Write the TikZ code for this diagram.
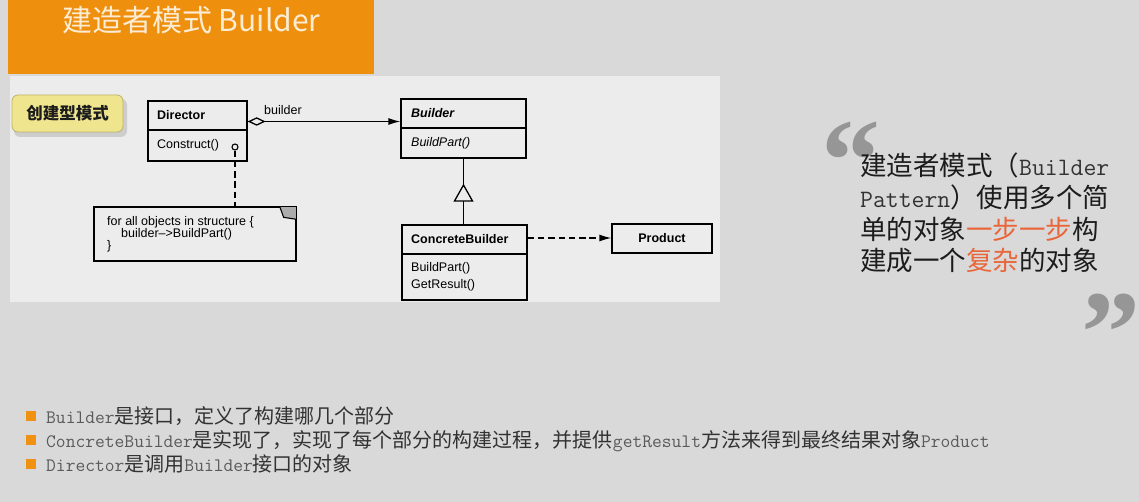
\documentclass[tikz,border=0pt]{standalone}
\usepackage{fontspec}
\setmainfont{Liberation Sans}
\newfontfamily\cjk{Noto Sans CJK SC}
\newfontfamily\qtfont{Liberation Serif}
\usetikzlibrary{arrows.meta,calc}

\definecolor{bg}{RGB}{217,217,217}
\definecolor{panel}{RGB}{236,236,236}
\definecolor{titleorange}{RGB}{238,143,13}
\definecolor{titletext}{RGB}{252,236,212}
\definecolor{tagyellow}{RGB}{239,229,142}
\definecolor{tagedge}{RGB}{190,178,105}
\definecolor{quotegray}{RGB}{150,150,150}
\definecolor{ink}{RGB}{28,28,28}
\definecolor{quotelat}{RGB}{50,50,50}
\definecolor{bulletink}{RGB}{50,50,50}
\definecolor{bulletlat}{RGB}{90,90,90}
\definecolor{accent}{RGB}{232,102,58}
\definecolor{bulletorange}{RGB}{240,145,20}

% Latin runs set in a typewriter face next to Chinese text
\newcommand\latb[1]{{\ttfamily\fontsize{19}{22}\selectfont\color{bulletlat}#1}}
\newcommand\latq[1]{{\ttfamily\fontsize{25}{28}\selectfont\color{quotelat}#1}}
% a quotation glyph in a box trimmed to its ink
\newcommand\qglyph[2]{\makebox[#1][l]{\raisebox{-0.37em}[0.32em][0pt]{#2}}}

\begin{document}
\begin{tikzpicture}[x=1pt,y=-1pt,
  umlbox/.style={draw=black,line width=1.3pt,rectangle,inner sep=0pt},
  lbl/.style={anchor=base west,inner sep=0pt,text=black,font=\fontsize{12.5}{15}\selectfont},
  lblb/.style={lbl,font=\fontsize{12.5}{15}\selectfont\bfseries},
  conn/.style={draw=black,line width=1.3pt},
  dashconn/.style={conn,dash pattern=on 6.5pt off 3.8pt},
  headtip/.style={-{Latex[length=12pt,width=7pt]}},
  quotetxt/.style={anchor=base west,inner sep=0pt,text=ink,text height=20pt,text depth=4pt,font=\cjk\fontsize{26.5}{30}\selectfont},
  bullettxt/.style={anchor=base west,inner sep=0pt,text=bulletink,font=\cjk\fontsize{20}{24}\selectfont},
  bulletsq/.style={fill=bulletorange,minimum size=10pt,inner sep=0pt,rectangle},
  qmark/.style={anchor=base west,inner sep=0pt,text=quotegray,font=\qtfont\bfseries\fontsize{118}{118}\selectfont}
]
% page background
\fill[bg] (0,0) rectangle (1139,502);
\useasboundingbox (0,0) rectangle (1139,502);

% title bar
\fill[titleorange] (8,0) rectangle (374,74);
\node[anchor=base west,inner sep=0pt,text=titletext,font=\cjk\fontsize{30}{34}\selectfont] (title) at (62,32) {建造者模式 Builder};

% diagram panel
\fill[panel] (10,76) rectangle (720,302);

% category tag
\fill[black,opacity=0.13,rounded corners=6pt] (14,99) rectangle (127,137);
\node[draw=tagedge,line width=0.8pt,fill=tagyellow,rounded corners=6pt,minimum width=111pt,minimum height=37pt,inner sep=0pt,text=ink,font=\cjk\bfseries\fontsize{16.5}{18}\selectfont] (tag) at (67.5,113.5) {创建型模式};

% Director class
\node[umlbox,minimum width=99pt,minimum height=60pt] (director) at (197.5,131) {};
\draw[conn] (director.west |- 0,130) -- (director.east |- 0,130);
\node[lblb] (dirname) at (157,120) {Director};
\node[lbl] (dirop) at (157,149) {Construct()};
\node[circle,draw=black,line width=1.1pt,fill=panel,minimum size=6pt,inner sep=0pt] (optail) at (235,147) {};

% note attached to Construct()
\node[umlbox,minimum width=202pt,minimum height=54pt] (note) at (195,234) {};
\fill[gray!65] (note.north east) -- ($(note.north east)+(-17,0)$) -- ($(note.north east)+(-13,11)$) -- ($(note.north east)+(0,13)$) -- cycle;
\draw[line width=1.1pt] ($(note.north east)+(-17,0)$) -- ($(note.north east)+(-13,11)$) -- ($(note.north east)+(0,13)$);
\draw[umlbox] (note.north west) rectangle (note.south east);
\node[lbl] (note1) at (107,226) {for all objects in structure \{};
\node[lbl] (note2) at (121,238) {builder-->BuildPart()};
\node[lbl] (note3) at (107,250) {\}};
\draw[dashconn] (optail.south) -- (optail.south |- note.north);

% Builder class
\node[umlbox,minimum width=125pt,minimum height=59pt] (builder) at (463.5,128.5) {};
\draw[conn] (builder.west |- 0,128) -- (builder.east |- 0,128);
\node[lblb,font=\fontsize{12.5}{15}\selectfont\bfseries\itshape] (bname) at (411,118) {Builder};
\node[lbl,font=\fontsize{12.5}{15}\selectfont\itshape] (bop) at (411,146.5) {BuildPart()};

% aggregation Director -> Builder
\draw[conn,{Diamond[open,length=18pt,width=8.5pt]}-{Latex[length=12pt,width=7pt]}] (director.east |- 0,121.5) -- (builder.west |- 0,121.5);
\node[lbl] (rolename) at (264,115) {builder};

% ConcreteBuilder class
\node[umlbox,minimum width=125pt,minimum height=75pt] (concrete) at (464.5,262.5) {};
\draw[conn] (concrete.west |- 0,254) -- (concrete.east |- 0,254);
\node[lblb] (cname) at (411,243.5) {ConcreteBuilder};
\node[lbl] (cop1) at (411,271.5) {BuildPart()};
\node[lbl] (cop2) at (411,288.5) {GetResult()};

% generalization ConcreteBuilder -> Builder
\coordinate (apex) at (builder.south |- 0,185);
\coordinate (gbase) at (builder.south |- 0,201);
\draw[conn] (builder.south) -- (apex);
\draw[conn,fill=panel] (apex) -- ($(gbase)+(9,0)$) -- ($(gbase)+(-9,0)$) -- cycle;
\draw[conn] (gbase) -- (gbase |- concrete.north);

% Product and dependency
\node[umlbox,minimum width=100pt,minimum height=29pt,font=\fontsize{12.5}{15}\selectfont\bfseries] (product) at (662,238.5) {Product};
\draw[dashconn,headtip] (concrete.east |- 0,238) -- (product.west |- 0,238);

% quotation
\node[qmark] (qopen) at (821,157) {\qglyph{37pt}{“}};
\node[qmark] (qclose) at (1081,329) {\qglyph{48pt}{”}};
\node[quotetxt] (q1) at (860,176) {建造者模式（\latq{Builder}};
\node[quotetxt] (q2) at (860,208) {\latq{Pattern}）使用多个简};
\node[quotetxt] (q3) at (860,240) {单的对象\textcolor{accent}{一步一步}构};
\node[quotetxt] (q4) at (860,271) {建成一个\textcolor{accent}{复杂}的对象};

% bullet list
\node[bulletsq] (s1) at (31,416) {};
\node[bulletsq] (s2) at (31,440) {};
\node[bulletsq] (s3) at (31,464) {};
\node[bullettxt] (t1) at (46,423.5) {\latb{Builder}是接口，定义了构建哪几个部分};
\node[bullettxt] (t2) at (46,447.5) {\latb{ConcreteBuilder}是实现了，实现了每个部分的构建过程，并提供\latb{getResult}方法来得到最终结果对象\latb{Product}};
\node[bullettxt] (t3) at (46,471.5) {\latb{Director}是调用\latb{Builder}接口的对象};
\end{tikzpicture}
\end{document}
